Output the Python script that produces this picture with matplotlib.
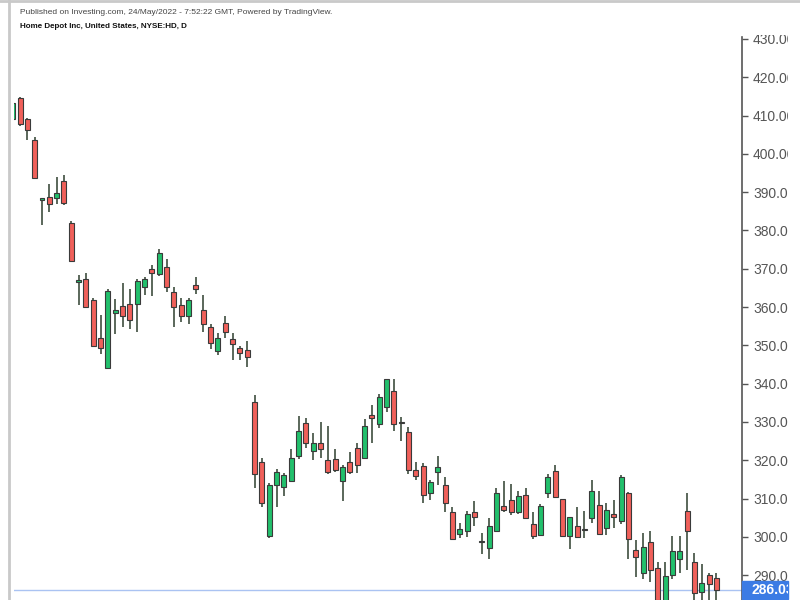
#!/usr/bin/env python3
"""Home Depot daily candlesticks, Investing.com / TradingView style."""

import matplotlib
matplotlib.use('Agg')
import matplotlib.pyplot as plt
import matplotlib.patches as mpatches
import matplotlib.transforms as mtransforms
from matplotlib.lines import Line2D
import numpy as np

plt.rcParams.update({
    'font.family': ['Liberation Sans', 'DejaVu Sans'],
    'figure.dpi': 100,
})

# OHLC, oldest first
opens = [409.1, 414.6, 409.0, 403.6, 388.0, 388.6, 388.4, 393.0, 381.9, 366.4,
         367.3, 361.7, 351.9, 344.0, 358.5, 360.3, 360.7, 360.7, 365.1, 369.9,
         368.6, 370.5, 363.9, 360.5, 357.7, 365.8, 359.1, 354.9, 348.4, 355.8,
         351.7, 349.4, 348.8, 335.3, 319.6, 300.3, 313.6, 313.1, 314.7, 321.2,
         329.7, 322.4, 324.4, 320.1, 320.3, 314.6, 319.6, 323.1, 320.5, 331.8,
         329.5, 334.0, 338.2, 329.7, 327.3, 317.5, 318.6, 311.4, 317.0, 313.6,
         306.4, 300.7, 301.5, 306.4, 298.6, 297.2, 301.6, 308.1, 309.6, 306.4,
         310.9, 303.3, 300.5, 311.4, 317.3, 309.9, 300.3, 302.7, 301.7, 304.9,
         308.3, 302.2, 305.9, 304.0, 311.4, 296.6, 290.5, 298.7, 291.8, 283.0,
         290.1, 294.2, 306.8, 293.3, 285.7, 290.0, 289.2]
highs = [413.5, 414.8, 409.3, 404.5, 388.2, 392.1, 394.0, 394.5, 382.5, 368.4,
         369.0, 362.3, 357.9, 364.7, 362.0, 366.2, 364.6, 367.3, 367.8, 371.0,
         375.1, 372.5, 365.1, 362.3, 362.3, 367.8, 363.2, 355.5, 353.2, 357.7,
         353.2, 349.9, 351.2, 337.0, 320.5, 314.0, 317.7, 316.6, 322.9, 331.6,
         331.0, 327.0, 330.0, 329.0, 322.9, 318.8, 322.2, 324.4, 330.7, 334.4,
         337.3, 341.1, 341.1, 331.4, 328.6, 319.6, 319.2, 314.9, 321.2, 315.5,
         307.9, 303.6, 306.8, 309.4, 300.9, 304.9, 312.7, 314.6, 313.7, 312.0,
         312.7, 306.6, 308.6, 316.4, 318.8, 310.0, 305.2, 307.9, 306.8, 314.9,
         312.0, 308.9, 309.6, 316.2, 311.6, 299.2, 301.1, 301.6, 293.5, 293.4,
         300.1, 300.1, 311.4, 295.7, 292.9, 290.6, 290.5]
lows = [408.8, 407.3, 403.6, 393.7, 381.4, 384.9, 386.8, 386.7, 372.0, 360.5,
        359.9, 349.6, 347.7, 344.0, 352.9, 354.9, 354.2, 353.6, 363.2, 362.9,
        368.0, 363.8, 354.7, 356.0, 355.5, 363.4, 353.6, 349.0, 347.5, 351.9,
        346.2, 346.2, 344.4, 312.7, 307.9, 299.6, 307.9, 310.7, 314.3, 320.3,
        323.1, 320.1, 320.5, 316.3, 317.0, 309.4, 316.3, 316.6, 320.5, 324.6,
        328.3, 332.7, 327.5, 324.9, 316.4, 314.9, 308.8, 309.6, 313.6, 306.6,
        299.4, 299.6, 300.0, 302.7, 295.5, 294.2, 301.6, 306.4, 305.6, 305.9,
        304.9, 299.4, 300.3, 310.2, 310.2, 300.2, 296.8, 299.6, 299.6, 303.6,
        300.5, 300.5, 302.2, 303.4, 294.2, 289.6, 289.0, 288.3, 282.0, 282.0,
        288.9, 290.5, 291.4, 283.0, 283.0, 283.0, 283.0]
closes = [413.3, 407.8, 406.1, 393.8, 388.1, 386.8, 389.7, 387.1, 372.1, 367.1,
          360.0, 349.7, 349.2, 364.2, 359.2, 357.7, 356.6, 366.8, 367.3, 368.8,
          374.0, 365.1, 360.0, 357.7, 361.9, 364.6, 355.5, 350.7, 352.0, 353.6,
          350.3, 348.1, 347.0, 316.3, 308.8, 313.6, 317.0, 316.2, 320.5, 327.7,
          324.6, 324.4, 322.9, 317.0, 317.5, 318.3, 317.0, 318.7, 329.0, 331.0,
          336.6, 341.1, 329.5, 329.8, 317.5, 316.0, 310.8, 314.4, 318.1, 308.8,
          299.4, 302.0, 305.9, 305.1, 298.7, 302.9, 311.4, 307.0, 306.4, 310.7,
          304.9, 300.3, 308.1, 315.5, 310.5, 300.3, 305.1, 300.0, 301.8, 312.0,
          300.7, 307.0, 305.1, 315.5, 299.4, 294.6, 297.3, 291.4, 283.5, 289.8,
          296.3, 296.3, 301.4, 285.3, 287.9, 287.6, 286.03]

price_ticks = [290, 300, 310, 320, 330, 340, 350, 360, 370, 380, 390, 400, 410, 420, 430]
last_price = 286.03

header = "Published on Investing.com, 24/May/2022 - 7:52:22 GMT, Powered by TradingView."
title = "Home Depot Inc, United States, NYSE:HD, D"

UP = '#22c06c'
DOWN = '#f0605a'
EDGE = '#3a3a3a'
WICK = '#4d5c4d'
W, H = 800, 600
CUT = 788  # screenshot ends here, the price scale is cut off


def main():
    fig = plt.figure(figsize=(W / 100, H / 100))
    ax = fig.add_axes([14 / W, 0, (742 - 14) / W, (H - 37) / H])

    o = np.array(opens)
    c = np.array(closes)
    x = np.arange(len(o))
    up = c >= o
    colors = np.where(up, UP, DOWN)
    bottoms = np.minimum(o, c)
    heights = np.maximum(np.abs(c - o), 0.35)

    ax.vlines(x, lows, highs, color=WICK, linewidth=1.3, zorder=2)
    ax.bar(x, heights, bottom=bottoms, width=0.68, color=colors,
           edgecolor=EDGE, linewidth=0.8, zorder=3)

    ax.axhline(last_price, color='#aac3f2', linewidth=1, zorder=1)

    ax.set_xlim(0.18, 99.5)
    ax.set_ylim(283.5, 430.5)

    for side in ['top', 'left', 'bottom']:
        ax.spines[side].set_visible(False)
    ax.spines['right'].set_color('#555555')
    ax.spines['right'].set_linewidth(1.2)
    ax.set_xticks([])
    ax.yaxis.tick_right()
    ax.set_yticks(price_ticks)
    ax.set_yticklabels([f'{v:.2f}' for v in price_ticks])
    ax.tick_params(axis='y', direction='out', length=4, width=1, pad=4,
                   colors='#555555', labelsize=10)
    # price scale labels get cut at the top and right, like the original
    clip = mtransforms.Bbox.from_extents(742, 0, CUT, H - 35)
    for lab in ax.get_yticklabels():
        lab.set_clip_box(clip)
        lab.set_clip_on(True)

    # last price tag
    fig.add_artist(mpatches.Rectangle((742 / W, 1 / H), (CUT - 742) / W, 18 / H,
                                      transform=fig.transFigure,
                                      color='#3b7be4', zorder=5))
    tag = fig.text(751 / W, 10 / H, f'{last_price:.2f}', color='white',
                   fontsize=10, fontweight='bold', va='center', ha='left', zorder=6)
    tag.set_clip_box(mtransforms.Bbox.from_extents(742, 0, CUT, 30))
    tag.set_clip_on(True)

    # frame of the screenshot
    fig.add_artist(Line2D([0, 1], [1 - 1.2 / H] * 2, color='#c9c9c9', linewidth=2))
    fig.add_artist(Line2D([8.5 / W] * 2, [0, 1], color='#c9c9c9', linewidth=2))

    fig.text(20 / W, 1 - 12 / H, header, fontsize=6, color='#444444', va='center')
    fig.text(20 / W, 1 - 27 / H, title, fontsize=5.8, fontweight='bold',
             color='#111111', va='center')

    fig.savefig('out.png', dpi=100)
    plt.close(fig)


if __name__ == "__main__":
    main()
